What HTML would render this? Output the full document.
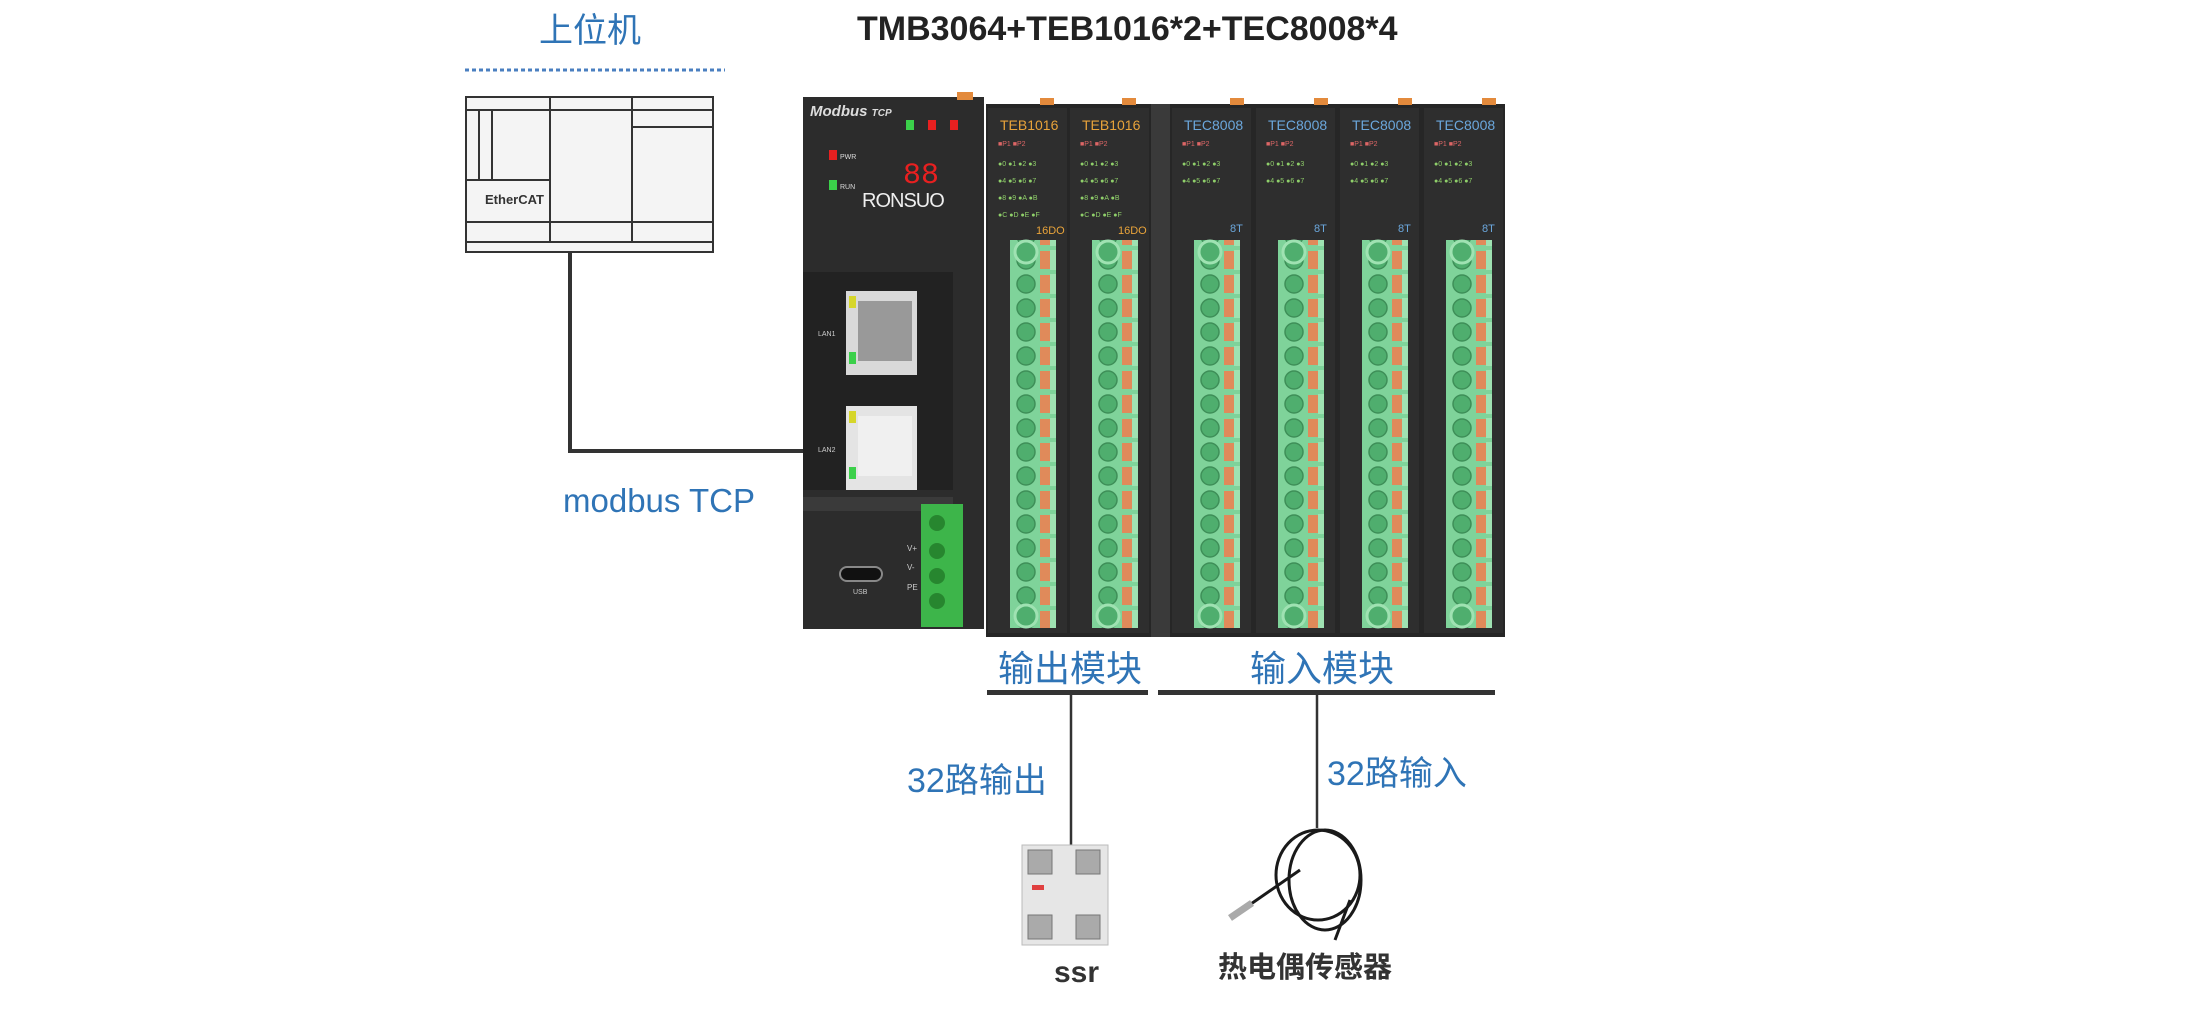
<!DOCTYPE html>
<html><head><meta charset="utf-8">
<style>
html,body{margin:0;padding:0;background:#fff;}
body{width:2196px;height:1016px;position:relative;overflow:hidden;font-family:"Liberation Sans","Noto Sans CJK SC",sans-serif;}
.t{position:absolute;white-space:nowrap;line-height:1;}
.blue{color:#2f74b6;}
</style></head><body>
<svg width="2196" height="1016" style="position:absolute;left:0;top:0">
<defs>
<pattern id="term" x="0" y="8" width="46" height="24" patternUnits="userSpaceOnUse">
<rect x="0" y="0" width="46" height="24" fill="#7fd39a"/>
<circle cx="16" cy="12" r="9" fill="#4fae6e" stroke="#3e8f58" stroke-width="1.5"/>
<rect x="30" y="3" width="10" height="18" fill="#e08a5a"/>
<rect x="40" y="2" width="6" height="20" fill="#9fe2b2"/>
</pattern>
</defs>
<line x1="465" y1="70" x2="725" y2="70" stroke="#4a7fc0" stroke-width="3" stroke-dasharray="4,3"/>
<g stroke="#333" stroke-width="2" fill="#f4f4f4">
<rect x="466" y="97" width="247" height="145"/>
<line x1="466" y1="110" x2="713" y2="110"/>
<line x1="550" y1="97" x2="550" y2="242"/>
<line x1="632" y1="97" x2="632" y2="242"/>
<line x1="632" y1="127" x2="713" y2="127"/>
<line x1="479" y1="110" x2="479" y2="180"/>
<line x1="492" y1="110" x2="492" y2="180"/>
<line x1="466" y1="180" x2="550" y2="180"/>
<line x1="466" y1="222" x2="713" y2="222"/>
<rect x="466" y="242" width="247" height="10"/>
</g>
<text x="485" y="204" font-size="13" font-weight="bold" fill="#333" font-family="Liberation Sans">EtherCAT</text>
<polyline points="570,252 570,451 803,451" fill="none" stroke="#333" stroke-width="4"/>
<rect x="803" y="97" width="181" height="532" fill="#2c2c2c"/>
<rect x="957" y="92" width="16" height="8" fill="#e38a3c"/>
<text x="810" y="116" font-size="15" font-style="italic" font-weight="bold" fill="#ddd">Modbus <tspan font-size="10">TCP</tspan></text>
<rect x="906" y="120" width="8" height="10" fill="#3bd04a"/><rect x="928" y="120" width="8" height="10" fill="#e82020"/><rect x="950" y="120" width="8" height="10" fill="#e82020"/>
<rect x="829" y="150" width="8" height="10" fill="#e82020"/><text x="840" y="159" font-size="7" fill="#ddd">PWR</text>
<rect x="829" y="180" width="8" height="10" fill="#3bd04a"/><text x="840" y="189" font-size="7" fill="#ddd">RUN</text>
<text x="903" y="183" font-size="30" fill="#e82020" font-family="Liberation Mono">88</text>
<text x="862" y="207" font-size="20" fill="#eee" letter-spacing="-1">RONSUO</text>
<rect x="803" y="272" width="150" height="218" fill="#222"/>
<rect x="846" y="291" width="71" height="84" fill="#d9d9d9"/><rect x="858" y="301" width="54" height="60" fill="#999"/>
<rect x="849" y="296" width="7" height="12" fill="#d6d62a"/><rect x="849" y="352" width="7" height="12" fill="#3bd04a"/>
<rect x="846" y="406" width="71" height="84" fill="#e4e4e4"/><rect x="858" y="416" width="54" height="60" fill="#f0f0f0"/>
<rect x="849" y="411" width="7" height="12" fill="#d6d62a"/><rect x="849" y="467" width="7" height="12" fill="#3bd04a"/>
<text x="818" y="336" font-size="7" fill="#ccc">LAN1</text><text x="818" y="452" font-size="7" fill="#ccc">LAN2</text>
<rect x="803" y="497" width="150" height="14" fill="#3a3a3a"/>
<rect x="840" y="567" width="42" height="14" rx="7" fill="#111" stroke="#888" stroke-width="2"/>
<text x="853" y="594" font-size="7" fill="#ccc">USB</text>
<text x="907" y="551" font-size="8" fill="#ccc">V+</text><text x="907" y="570" font-size="8" fill="#ccc">V-</text><text x="907" y="590" font-size="8" fill="#ccc">PE</text>
<rect x="921" y="504" width="42" height="123" fill="#3db54a"/>
<g fill="#27862f"><circle cx="937" cy="523" r="8"/><circle cx="937" cy="551" r="8"/><circle cx="937" cy="576" r="8"/><circle cx="937" cy="601" r="8"/></g>

<rect x="986" y="104" width="519" height="533" fill="#262626"/>
<rect x="1151" y="104" width="19" height="533" fill="#3a3a3a"/>
<g fill="#2e2e2e">
<rect x="988" y="108" width="79" height="525"/><rect x="1070" y="108" width="79" height="525"/>
<rect x="1172" y="108" width="79" height="525"/><rect x="1256" y="108" width="79" height="525"/>
<rect x="1340" y="108" width="79" height="525"/><rect x="1424" y="108" width="79" height="525"/>
</g>
<g fill="#e38a3c">
<rect x="1040" y="98" width="14" height="7"/><rect x="1122" y="98" width="14" height="7"/>
<rect x="1230" y="98" width="14" height="7"/><rect x="1314" y="98" width="14" height="7"/>
<rect x="1398" y="98" width="14" height="7"/><rect x="1482" y="98" width="14" height="7"/>
</g>
<g font-size="14" font-family="Liberation Sans">
<text x="1000" y="130" fill="#e8a33a">TEB1016</text><text x="1082" y="130" fill="#e8a33a">TEB1016</text>
<text x="1184" y="130" fill="#6ba7dc">TEC8008</text><text x="1268" y="130" fill="#6ba7dc">TEC8008</text>
<text x="1352" y="130" fill="#6ba7dc">TEC8008</text><text x="1436" y="130" fill="#6ba7dc">TEC8008</text>
</g>
<g font-size="7" fill="#8fcf6a">
<text x="998" y="146" fill="#d66">■P1 ■P2</text><text x="1080" y="146" fill="#d66">■P1 ■P2</text>
<text x="998" y="166">●0 ●1 ●2 ●3</text><text x="998" y="183">●4 ●5 ●6 ●7</text><text x="998" y="200">●8 ●9 ●A ●B</text><text x="998" y="217">●C ●D ●E ●F</text>
<text x="1080" y="166">●0 ●1 ●2 ●3</text><text x="1080" y="183">●4 ●5 ●6 ●7</text><text x="1080" y="200">●8 ●9 ●A ●B</text><text x="1080" y="217">●C ●D ●E ●F</text>
<text x="1182" y="146" fill="#d66">■P1 ■P2</text><text x="1182" y="166">●0 ●1 ●2 ●3</text><text x="1182" y="183">●4 ●5 ●6 ●7</text>
<text x="1266" y="146" fill="#d66">■P1 ■P2</text><text x="1266" y="166">●0 ●1 ●2 ●3</text><text x="1266" y="183">●4 ●5 ●6 ●7</text>
<text x="1350" y="146" fill="#d66">■P1 ■P2</text><text x="1350" y="166">●0 ●1 ●2 ●3</text><text x="1350" y="183">●4 ●5 ●6 ●7</text>
<text x="1434" y="146" fill="#d66">■P1 ■P2</text><text x="1434" y="166">●0 ●1 ●2 ●3</text><text x="1434" y="183">●4 ●5 ●6 ●7</text>
</g>
<g font-size="11">
<text x="1036" y="234" fill="#e8a33a">16DO</text><text x="1118" y="234" fill="#e8a33a">16DO</text>
<text x="1230" y="232" fill="#6ba7dc">8T</text><text x="1314" y="232" fill="#6ba7dc">8T</text><text x="1398" y="232" fill="#6ba7dc">8T</text><text x="1482" y="232" fill="#6ba7dc">8T</text>
</g>
<g transform="translate(1010,240)"><rect width="46" height="388" fill="url(#term)"/><circle cx="16" cy="12" r="11" fill="#4fae6e" stroke="#9fe2b2" stroke-width="3"/><circle cx="16" cy="376" r="11" fill="#4fae6e" stroke="#9fe2b2" stroke-width="3"/></g>
<g transform="translate(1092,240)"><rect width="46" height="388" fill="url(#term)"/><circle cx="16" cy="12" r="11" fill="#4fae6e" stroke="#9fe2b2" stroke-width="3"/><circle cx="16" cy="376" r="11" fill="#4fae6e" stroke="#9fe2b2" stroke-width="3"/></g>
<g transform="translate(1194,240)"><rect width="46" height="388" fill="url(#term)"/><circle cx="16" cy="12" r="11" fill="#4fae6e" stroke="#9fe2b2" stroke-width="3"/><circle cx="16" cy="376" r="11" fill="#4fae6e" stroke="#9fe2b2" stroke-width="3"/></g>
<g transform="translate(1278,240)"><rect width="46" height="388" fill="url(#term)"/><circle cx="16" cy="12" r="11" fill="#4fae6e" stroke="#9fe2b2" stroke-width="3"/><circle cx="16" cy="376" r="11" fill="#4fae6e" stroke="#9fe2b2" stroke-width="3"/></g>
<g transform="translate(1362,240)"><rect width="46" height="388" fill="url(#term)"/><circle cx="16" cy="12" r="11" fill="#4fae6e" stroke="#9fe2b2" stroke-width="3"/><circle cx="16" cy="376" r="11" fill="#4fae6e" stroke="#9fe2b2" stroke-width="3"/></g>
<g transform="translate(1446,240)"><rect width="46" height="388" fill="url(#term)"/><circle cx="16" cy="12" r="11" fill="#4fae6e" stroke="#9fe2b2" stroke-width="3"/><circle cx="16" cy="376" r="11" fill="#4fae6e" stroke="#9fe2b2" stroke-width="3"/></g>

<rect x="987" y="690" width="161" height="5" fill="#333"/>
<rect x="1158" y="690" width="337" height="5" fill="#333"/>
<line x1="1071" y1="695" x2="1071" y2="847" stroke="#333" stroke-width="2.5"/>
<line x1="1317" y1="695" x2="1317" y2="828" stroke="#333" stroke-width="2.5"/>
<rect x="1022" y="845" width="86" height="100" fill="#e6e6e6" stroke="#bbb"/>
<rect x="1028" y="850" width="24" height="24" fill="#aaa" stroke="#777"/><rect x="1076" y="850" width="24" height="24" fill="#aaa" stroke="#777"/>
<rect x="1028" y="915" width="24" height="24" fill="#aaa" stroke="#777"/><rect x="1076" y="915" width="24" height="24" fill="#aaa" stroke="#777"/>
<rect x="1032" y="885" width="12" height="5" fill="#e04040"/>
<g fill="none" stroke="#1a1a1a" stroke-width="3">
<ellipse cx="1318" cy="875" rx="42" ry="45"/>
<ellipse cx="1325" cy="880" rx="36" ry="50"/>
<path d="M1300 870 L1235 915"/>
<path d="M1350 900 L1335 940"/>
</g>
<line x1="1230" y1="918" x2="1252" y2="903" stroke="#aaa" stroke-width="7"/>
</svg>
<div class="t" style="left:857px;top:12px;font-size:34px;font-weight:bold;color:#222;">TMB3064+TEB1016*2+TEC8008*4</div>
<div class="t blue" style="left:539px;top:14px;font-size:34px;">上位机</div>
<div class="t blue" style="left:563px;top:484px;font-size:33px;">modbus TCP</div>
<div class="t blue" style="left:998px;top:651px;font-size:36px;">输出模块</div>
<div class="t blue" style="left:1250px;top:651px;font-size:36px;">输入模块</div>
<div class="t blue" style="left:907px;top:764px;font-size:34px;">32路输出</div>
<div class="t blue" style="left:1327px;top:757px;font-size:34px;">32路输入</div>
<div class="t" style="left:1054px;top:958px;font-size:30px;font-weight:bold;color:#333;">ssr</div>
<div class="t" style="left:1218px;top:954px;font-size:29px;font-weight:bold;color:#333;">热电偶传感器</div>
</body></html>
